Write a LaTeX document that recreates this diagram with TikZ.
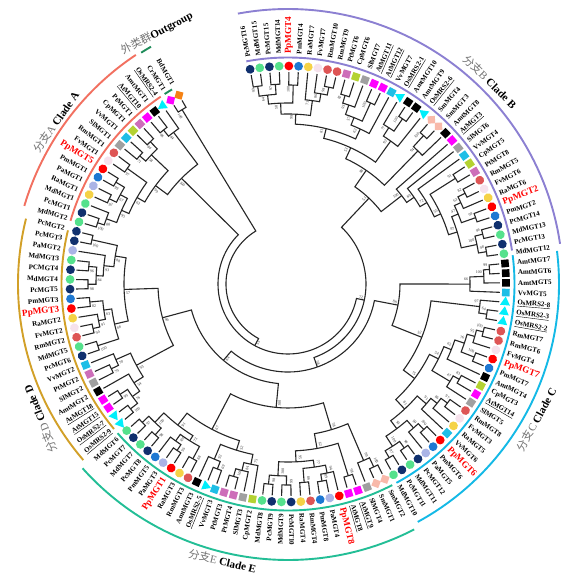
\documentclass[tikz,border=0pt]{standalone}
\usepackage{fontspec}
\setmainfont{Liberation Serif}
\newfontfamily\cjk{Noto Sans CJK SC}
\usetikzlibrary{shapes.geometric}
\definecolor{cPc}{RGB}{16,48,110}
\definecolor{cMd}{RGB}{85,225,140}
\definecolor{cPp}{RGB}{255,0,0}
\definecolor{cPm}{RGB}{30,120,210}
\definecolor{cRa}{RGB}{245,210,70}
\definecolor{cFv}{RGB}{246,226,236}
\definecolor{cRm}{RGB}{222,85,85}
\definecolor{cPa}{RGB}{170,180,230}
\definecolor{cPt}{RGB}{205,110,185}
\definecolor{cCp}{RGB}{180,210,50}
\definecolor{cSl}{RGB}{160,160,160}
\definecolor{cAt}{RGB}{255,0,255}
\definecolor{cVv}{RGB}{30,190,230}
\definecolor{cAmt}{RGB}{0,0,0}
\definecolor{cOs}{RGB}{0,238,250}
\definecolor{cSm}{RGB}{248,185,170}
\definecolor{cCr}{RGB}{255,0,255}
\definecolor{cBd}{RGB}{245,130,20}
\definecolor{clA}{RGB}{242,112,96}
\definecolor{clB}{RGB}{140,128,210}
\definecolor{clC}{RGB}{20,185,230}
\definecolor{clD}{RGB}{210,160,40}
\definecolor{clE}{RGB}{35,190,150}
\definecolor{clO}{RGB}{30,140,90}
\tikzset{
 br/.style={line width=1.1pt, draw=black!85},
 sym/.style={inner sep=0pt, draw=none},
 symC/.style={sym, circle, minimum size=8.8pt},
 symS/.style={sym, rectangle, minimum size=7.6pt},
 symT/.style={sym, regular polygon, regular polygon sides=3, minimum size=11.5pt},
 symD/.style={sym, diamond, minimum size=10.5pt},
 sp Pc/.style={symC, fill=cPc}, sp Md/.style={symC, fill=cMd},
 sp Pp/.style={symC, fill=cPp}, sp Pm/.style={symC, fill=cPm},
 sp Ra/.style={symC, fill=cRa}, sp Fv/.style={symC, fill=cFv},
 sp Rm/.style={symC, fill=cRm}, sp Pa/.style={symC, fill=cPa},
 sp Pt/.style={symS, fill=cPt}, sp Cp/.style={symS, fill=cCp},
 sp Sl/.style={symS, fill=cSl}, sp At/.style={symS, fill=cAt},
 sp Vv/.style={symS, fill=cVv}, sp Amt/.style={symS, fill=cAmt},
 sp Os/.style={symT, fill=cOs}, sp Sm/.style={symD, fill=cSm},
 sp Cr/.style={symD, fill=cCr}, sp Bd/.style={symD, fill=cBd},
 lab/.style={inner sep=0pt, font=\bfseries\fontsize{7}{7}\selectfont},
 labred/.style={inner sep=0pt, text=red, font=\bfseries\fontsize{9.2}{9.2}\selectfont},
 bsv/.style={inner sep=0pt, font=\fontsize{4}{4}\selectfont, text=black!80},
 cl/.style={line width=1.9pt},
 cll/.style={inner sep=0pt, font=\fontsize{11}{11}\selectfont},
}
\def\myPp{Pp}
\newcommand\myLeaf[3]{%
  \pgfmathsetmacro\myth{100-#1*2.556391}%
  \expandafter\xdef\csname ang@L#1\endcsname{\myth}%
  \coordinate (L#1) at (\myth:212pt);%
  \node[sp #3, rotate=\myth] (S#1) at (\myth:218pt) {};%
  \def\mysp{#3}%
  \ifx\mysp\myPp\tikzset{curlab/.style={labred}}\else\tikzset{curlab/.style={lab}}\fi
  \ifdim\myth pt>-90pt\relax
    \node[curlab, rotate=\myth, anchor=west] (T#1) at (\myth:230pt) {#2};%
  \else
    \pgfmathsetmacro\mytf{\myth+180}%
    \node[curlab, rotate=\mytf, anchor=east] (T#1) at (\myth:230pt) {#2};%
  \fi
}
\newcommand\myNode[5]{%
  \edef\myta{\csname ang@#2\endcsname}%
  \edef\mytb{\csname ang@#3\endcsname}%
  \pgfmathsetmacro\mytm{(\myta+\mytb)/2}%
  \expandafter\xdef\csname ang@#1\endcsname{\mytm}%
  \coordinate (#1) at (\mytm:#4pt);%
  \draw[br] (#2) -- (\myta:#4pt) arc[start angle=\myta, end angle=\mytb, radius=#4pt] -- (#3);%
  \if\relax\detokenize{#5}\relax\else
    \pgfmathsetmacro\mybt{\mytm+1.4}%
    \pgfmathsetmacro\mybr{#4-1.5}%
    \ifdim\mytm pt>-90pt\relax
      \node[bsv, rotate=\mytm, anchor=east] (bs#1) at (\mybt:\mybr pt) {#5};%
    \else
      \pgfmathsetmacro\mytf{\mytm+180}%
      \node[bsv, rotate=\mytf, anchor=west] (bs#1) at (\mybt:\mybr pt) {#5};%
    \fi
  \fi
}
\newcommand\gz[1]{\textcolor{black!55}{#1}}
\begin{document}
\begin{tikzpicture}
\fill[white] (-288pt,-296pt) rectangle (292pt,284pt);
\useasboundingbox (-288pt,-296pt) rectangle (292pt,284pt);
% leaves
\myLeaf{0}{PcMGT16}{Pc}
\myLeaf{1}{MdMGT15}{Md}
\myLeaf{2}{PcMGT15}{Pc}
\myLeaf{3}{MdMGT14}{Md}
\myLeaf{4}{PpMGT4}{Pp}
\myLeaf{5}{PmMGT4}{Pm}
\myLeaf{6}{RaMGT7}{Ra}
\myLeaf{7}{FvMGT7}{Fv}
\myLeaf{8}{RmMGT10}{Rm}
\myLeaf{9}{RmMGT9}{Rm}
\myLeaf{10}{PtMGT6}{Pt}
\myLeaf{11}{CpMGT6}{Cp}
\myLeaf{12}{SlMGT7}{Sl}
\myLeaf{13}{\underline{AtMGT11}}{At}
\myLeaf{14}{\underline{AtMGT12}}{At}
\myLeaf{15}{VvMGT7}{Vv}
\myLeaf{16}{\underline{OsMRS2-1}}{Os}
\myLeaf{17}{AmtMGT10}{Amt}
\myLeaf{18}{AmtMGT9}{Amt}
\myLeaf{19}{\underline{OsMRS2-6}}{Os}
\myLeaf{20}{SmMGT4}{Sm}
\myLeaf{21}{SmMGT3}{Sm}
\myLeaf{22}{AmtMGT8}{Amt}
\myLeaf{23}{\underline{AtMGT3}}{At}
\myLeaf{24}{SlMGT6}{Sl}
\myLeaf{25}{VvMGT4}{Vv}
\myLeaf{26}{CpMGT5}{Cp}
\myLeaf{27}{PtMGT8}{Pt}
\myLeaf{28}{RmMGT5}{Rm}
\myLeaf{29}{FvMGT6}{Fv}
\myLeaf{30}{RaMGT6}{Ra}
\myLeaf{31}{PpMGT2}{Pp}
\myLeaf{32}{PmMGT2}{Pm}
\myLeaf{33}{PcMGT14}{Pc}
\myLeaf{34}{MdMGT13}{Md}
\myLeaf{35}{PcMGT13}{Pc}
\myLeaf{36}{MdMGT12}{Md}
\myLeaf{37}{AmtMGT7}{Amt}
\myLeaf{38}{AmtMGT6}{Amt}
\myLeaf{39}{AmtMGT5}{Amt}
\myLeaf{40}{VvMGT5}{Vv}
\myLeaf{41}{\underline{OsMRS2-8}}{Os}
\myLeaf{42}{\underline{OsMRS2-3}}{Os}
\myLeaf{43}{\underline{OsMRS2-2}}{Os}
\myLeaf{44}{RmMGT7}{Rm}
\myLeaf{45}{RmMGT6}{Rm}
\myLeaf{46}{FvMGT4}{Fv}
\myLeaf{47}{PpMGT7}{Pp}
\myLeaf{48}{PmMGT7}{Pm}
\myLeaf{49}{AmtMGT4}{Amt}
\myLeaf{50}{CpMGT3}{Cp}
\myLeaf{51}{\underline{AtMGT14}}{At}
\myLeaf{52}{SlMGT5}{Sl}
\myLeaf{53}{RmMGT8}{Rm}
\myLeaf{54}{FvMGT3}{Fv}
\myLeaf{55}{RaMGT5}{Ra}
\myLeaf{56}{VvMGT6}{Vv}
\myLeaf{57}{PpMGT6}{Pp}
\myLeaf{58}{PmMGT6}{Pm}
\myLeaf{59}{PaMGT5}{Pa}
\myLeaf{60}{PcMGT12}{Pc}
\myLeaf{61}{MdMGT11}{Md}
\myLeaf{62}{PcMGT11}{Pc}
\myLeaf{63}{MdMGT10}{Md}
\myLeaf{64}{SmMGT2}{Sm}
\myLeaf{65}{SmMGT1}{Sm}
\myLeaf{66}{SlMGT4}{Sl}
\myLeaf{67}{\underline{AtMGT9}}{At}
\myLeaf{68}{\underline{AtMGT8}}{At}
\myLeaf{69}{PpMGT8}{Pp}
\myLeaf{70}{PaMGT4}{Pa}
\myLeaf{71}{PmMGT8}{Pm}
\myLeaf{72}{RmMGT4}{Rm}
\myLeaf{73}{RaMGT4}{Ra}
\myLeaf{74}{PcMGT10}{Pc}
\myLeaf{75}{MdMGT9}{Md}
\myLeaf{76}{PcMGT9}{Pc}
\myLeaf{77}{MdMGT8}{Md}
\myLeaf{78}{CpMGT2}{Cp}
\myLeaf{79}{SlMGT3}{Sl}
\myLeaf{80}{PtMGT4}{Pt}
\myLeaf{81}{PtMGT3}{Pt}
\myLeaf{82}{VvMGT3}{Vv}
\myLeaf{83}{\underline{OsMRS2-5}}{Os}
\myLeaf{84}{AmtMGT3}{Amt}
\myLeaf{85}{RmMGT3}{Rm}
\myLeaf{86}{RaMGT3}{Ra}
\myLeaf{87}{PpMGT1}{Pp}
\myLeaf{88}{PaMGT3}{Pa}
\myLeaf{89}{PmMGT5}{Pm}
\myLeaf{90}{PcMGT8}{Pc}
\myLeaf{91}{MdMGT7}{Md}
\myLeaf{92}{PcMGT7}{Pc}
\myLeaf{93}{MdMGT6}{Md}
\myLeaf{94}{\underline{OsMRS2-9}}{Os}
\myLeaf{95}{\underline{OsMRS2-7}}{Os}
\myLeaf{96}{\underline{AtMGT15}}{At}
\myLeaf{97}{\underline{AtMGT18}}{At}
\myLeaf{98}{AmtMGT2}{Amt}
\myLeaf{99}{SlMGT2}{Sl}
\myLeaf{100}{PtMGT2}{Pt}
\myLeaf{101}{VvMGT2}{Vv}
\myLeaf{102}{PcMGT6}{Pc}
\myLeaf{103}{MdMGT5}{Md}
\myLeaf{104}{RmMGT2}{Rm}
\myLeaf{105}{FvMGT2}{Fv}
\myLeaf{106}{RaMGT2}{Ra}
\myLeaf{107}{PpMGT3}{Pp}
\myLeaf{108}{PmMGT3}{Pm}
\myLeaf{109}{PcMGT5}{Pc}
\myLeaf{110}{MdMGT4}{Md}
\myLeaf{111}{PCMGT4}{Pc}
\myLeaf{112}{MdMGT3}{Md}
\myLeaf{113}{PaMGT2}{Pa}
\myLeaf{114}{PcMGT3}{Pc}
\myLeaf{115}{PcMGT2}{Pc}
\myLeaf{116}{MdMGT2}{Md}
\myLeaf{117}{PcMGT1}{Pc}
\myLeaf{118}{MdMGT1}{Md}
\myLeaf{119}{RaMGT1}{Ra}
\myLeaf{120}{PaMGT1}{Pa}
\myLeaf{121}{PmMGT1}{Pm}
\myLeaf{122}{PpMGT5}{Pp}
\myLeaf{123}{FvMGT1}{Fv}
\myLeaf{124}{RmMGT1}{Rm}
\myLeaf{125}{SlMGT1}{Sl}
\myLeaf{126}{VvMGT1}{Vv}
\myLeaf{127}{CpMGT1}{Cp}
\myLeaf{128}{PtMGT1}{Pt}
\myLeaf{129}{\underline{AtMGT10}}{At}
\myLeaf{130}{AmtMGT1}{Amt}
\myLeaf{131}{\underline{OsMRS2-4}}{Os}
\myLeaf{132}{CrMGT1}{Cr}
\myLeaf{133}{BdMGT1}{Bd}
% clade B
\myNode{b1}{L0}{L1}{200}{99}
\myNode{b2}{L2}{L3}{200}{97}
\myNode{b3}{b1}{b2}{190}{64}
\myNode{b4}{L4}{L5}{199}{100}
\myNode{b5}{b3}{b4}{181}{58}
\myNode{b6}{L8}{L9}{201}{98}
\myNode{b7}{L7}{b6}{193}{86}
\myNode{b8}{L6}{b7}{185}{71}
\myNode{b9}{b5}{b8}{170}{99}
\myNode{b10}{L10}{L11}{197}{82}
\myNode{b11}{b10}{L12}{189}{93}
\myNode{b12}{L13}{L14}{199}{100}
\myNode{b13}{b11}{b12}{179}{57}
\myNode{b14}{b13}{L15}{171}{62}
\myNode{b15}{b9}{b14}{160}{81}
\myNode{b16}{L17}{L18}{201}{100}
\myNode{b17}{L16}{b16}{186}{77}
\myNode{b18}{b17}{L19}{176}{92}
\myNode{b19}{b15}{b18}{150}{53}
\myNode{b20}{L20}{L21}{201}{100}
\myNode{b21}{b20}{L22}{186}{94}
\myNode{b22}{b19}{b21}{138}{88}
\myNode{b23}{L26}{L27}{198}{91}
\myNode{b24}{L28}{L29}{199}{82}
\myNode{b25}{b24}{L30}{191}{63}
\myNode{b26}{L31}{L32}{199}{99}
\myNode{b27}{b25}{b26}{184}{47}
\myNode{b28}{L33}{L34}{201}{96}
\myNode{b29}{L35}{L36}{201}{98}
\myNode{b30}{b28}{b29}{193}{100}
\myNode{b31}{b27}{b30}{177}{87}
\myNode{b32}{b23}{b31}{168}{55}
\myNode{b33}{L25}{b32}{161}{72}
\myNode{b34}{L24}{b33}{153}{69}
\myNode{b35}{L23}{b34}{144}{100}
\myNode{cB}{b22}{b35}{118}{51}
% clade C
\myNode{c1}{L37}{L38}{202}{99}
\myNode{c2}{c1}{L39}{196}{100}
\myNode{c3}{c2}{L40}{182}{66}
\myNode{c4}{L42}{L43}{201}{64}
\myNode{c5}{L41}{c4}{193}{97}
\myNode{c6}{L44}{L45}{201}{100}
\myNode{c7}{c6}{L46}{194}{95}
\myNode{c8}{L47}{L48}{200}{100}
\myNode{c9}{c7}{c8}{186}{76}
\myNode{c10}{c9}{L49}{176}{62}
\myNode{c11}{L50}{L51}{196}{83}
\myNode{c12}{c11}{L52}{189}{47}
\myNode{c13}{c10}{c12}{168}{54}
\myNode{c14}{L53}{L54}{199}{97}
\myNode{c15}{c14}{L55}{191}{86}
\myNode{c16}{c15}{L56}{183}{91}
\myNode{c17}{L57}{L58}{199}{100}
\myNode{c18}{c17}{L59}{191}{99}
\myNode{c19}{L60}{L61}{201}{98}
\myNode{c20}{L62}{L63}{201}{97}
\myNode{c21}{c19}{c20}{193}{100}
\myNode{c22}{c18}{c21}{181}{93}
\myNode{c23}{c16}{c22}{171}{81}
\myNode{c24}{c13}{c23}{158}{75}
\myNode{c25}{c5}{c24}{144}{52}
\myNode{cC}{c3}{c25}{112}{88}
% clade E
\myNode{e1}{L64}{L65}{202}{100}
\myNode{e2}{e1}{L66}{192}{99}
\myNode{e3}{L67}{L68}{201}{98}
\myNode{e4}{L70}{L71}{200}{89}
\myNode{e5}{L69}{e4}{193}{94}
\myNode{e6}{L72}{L73}{199}{86}
\myNode{e7}{e5}{e6}{185}{77}
\myNode{e8}{L74}{L75}{201}{99}
\myNode{e9}{L76}{L77}{201}{98}
\myNode{e10}{e8}{e9}{192}{100}
\myNode{e11}{e7}{e10}{178}{95}
\myNode{e12}{e3}{e11}{167}{62}
\myNode{e13}{e2}{e12}{152}{58}
\myNode{e14}{L80}{L81}{200}{100}
\myNode{e15}{L79}{e14}{192}{84}
\myNode{e16}{L78}{e15}{184}{75}
\myNode{e17}{L82}{L83}{198}{69}
\myNode{e18}{e17}{L84}{190}{92}
\myNode{e19}{e16}{e18}{174}{52}
\myNode{e20}{L85}{L86}{199}{88}
\myNode{e21}{L87}{L88}{200}{96}
\myNode{e22}{e21}{L89}{193}{100}
\myNode{e23}{e20}{e22}{185}{73}
\myNode{e24}{L90}{L91}{201}{98}
\myNode{e25}{L92}{L93}{201}{97}
\myNode{e26}{e24}{e25}{192}{100}
\myNode{e27}{e23}{e26}{179}{91}
\myNode{e28}{e19}{e27}{164}{67}
\myNode{cE}{e13}{e28}{124}{100}
% clade D
\myNode{d1}{L94}{L95}{201}{100}
\myNode{d2}{L96}{L97}{201}{99}
\myNode{d3}{d1}{d2}{192}{76}
\myNode{d4}{d3}{L98}{183}{54}
\myNode{d5}{L99}{L100}{196}{79}
\myNode{d6}{d5}{L101}{188}{70}
\myNode{d7}{d4}{d6}{172}{93}
\myNode{d8}{L102}{L103}{200}{100}
\myNode{d9}{L104}{L105}{200}{94}
\myNode{d10}{d9}{L106}{193}{91}
\myNode{d11}{L107}{L108}{199}{82}
\myNode{d12}{d10}{d11}{186}{63}
\myNode{d13}{d8}{d12}{178}{66}
\myNode{d14}{L109}{L110}{200}{98}
\myNode{d15}{L111}{L112}{200}{96}
\myNode{d16}{d14}{d15}{192}{84}
\myNode{d17}{d16}{L113}{185}{93}
\myNode{d18}{L114}{L115}{201}{100}
\myNode{d19}{d17}{d18}{175}{88}
\myNode{d20}{d13}{d19}{164}{57}
\myNode{cD}{d7}{d20}{130}{96}
% clade A
\myNode{a1}{L116}{L117}{200}{100}
\myNode{a2}{a1}{L118}{193}{88}
\myNode{a3}{L119}{L120}{198}{92}
\myNode{a4}{L121}{L122}{200}{99}
\myNode{a5}{a3}{a4}{190}{67}
\myNode{a6}{a2}{a5}{182}{95}
\myNode{a7}{L123}{L124}{198}{97}
\myNode{a8}{a6}{a7}{174}{62}
\myNode{a9}{L125}{L126}{196}{71}
\myNode{a10}{L127}{L128}{198}{84}
\myNode{a11}{a9}{a10}{188}{58}
\myNode{a12}{a8}{a11}{165}{99}
\myNode{a13}{L129}{L130}{198}{86}
\myNode{a14}{a13}{L131}{190}{64}
\myNode{cA}{a12}{a14}{150}{100}
% outgroup and backbone
\myNode{og}{L132}{L133}{204}{100}
\myNode{nED}{cE}{cD}{100}{64}
\myNode{nCED}{cC}{nED}{88}{58}
\myNode{nB}{cB}{nCED}{78}{72}
\myNode{nI}{cA}{nB}{70}{53}
\myNode{root}{og}{nI}{62}{}
% clade arcs
\draw[cl, draw=clO] (120.8:226.5pt) arc[start angle=120.8, end angle=123.0, radius=226.5pt];
\draw[cl, draw=clO] (120.0:274pt) arc[start angle=120.0, end angle=122.4, radius=274pt];
\draw[cl, draw=clA] (124.2:226.5pt) arc[start angle=124.2, end angle=163.8, radius=226.5pt];
\draw[cl, draw=clA] (123.6:275pt) arc[start angle=123.6, end angle=163.5, radius=275pt];
\draw[cl, draw=clD] (166.3:226.5pt) arc[start angle=166.3, end angle=219.8, radius=226.5pt];
\draw[cl, draw=clD] (166.0:270pt) arc[start angle=166.0, end angle=220.7, radius=270pt];
\draw[cl, draw=clE] (-138.8:226.5pt) arc[start angle=-138.8, end angle=-62.6, radius=226.5pt];
\draw[cl, draw=clE] (-138.1:276pt) arc[start angle=-138.1, end angle=-62.8, radius=276pt];
\draw[cl, draw=clC] (-61.4:226.5pt) arc[start angle=-61.4, end angle=7.3, radius=226.5pt];
\draw[cl, draw=clC] (-61.4:271pt) arc[start angle=-61.4, end angle=7.0, radius=271pt];
\draw[cl, draw=clB] (8.5:226.5pt) arc[start angle=8.5, end angle=100.6, radius=226.5pt];
\draw[cl, draw=clB] (8.4:275pt) arc[start angle=8.4, end angle=100.5, radius=275pt];
% clade labels
\node[cll, rotate=27.6] (labO) at (117.6:283pt) {\gz{\cjk 外类群}\textbf{Outgroup}};
\node[cll, rotate=55.1] (labA) at (145.1:283pt) {\gz{{\cjk 分支}A} \textbf{Clade A}};
\node[cll, rotate=-45] (labB) at (45:286pt) {\gz{{\cjk 分支}B} \textbf{Clade B}};
\node[cll, rotate=61.4] (labC) at (-28.6:283pt) {\gz{{\cjk 分支}C} \textbf{Clade C}};
\node[cll, rotate=-13.3] (labE) at (-103.3:285pt) {\gz{{\cjk 分支}E} \textbf{Clade E}};
\node[cll, rotate=112] (labD) at (208.6:282pt) {\gz{{\cjk 分支}D} \textbf{Clade D}};
\end{tikzpicture}
\end{document}
